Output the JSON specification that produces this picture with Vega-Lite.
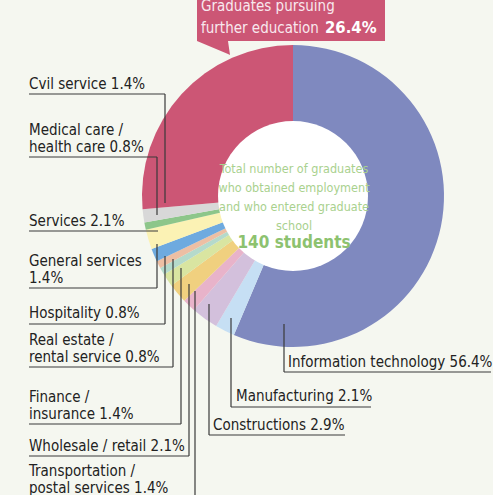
{
  "$schema": "https://vega.github.io/schema/vega-lite/v6.json",
  "width": 493,
  "height": 495,
  "autosize": {"type": "none"},
  "padding": 0,
  "background": "#f5f7f0",
  "config": {"view": {"stroke": null}},
  "datasets": {
    "slices": [
      {"cat": "Information technology", "pct": 56.4, "ord": 1},
      {"cat": "Manufacturing", "pct": 2.1, "ord": 2},
      {"cat": "Constructions", "pct": 2.9, "ord": 3},
      {"cat": "Transportation / postal services", "pct": 1.4, "ord": 4},
      {"cat": "Wholesale / retail", "pct": 2.1, "ord": 5},
      {"cat": "Finance / insurance", "pct": 1.4, "ord": 6},
      {"cat": "Real estate / rental service", "pct": 0.8, "ord": 7},
      {"cat": "Hospitality", "pct": 0.8, "ord": 8},
      {"cat": "General services", "pct": 1.4, "ord": 9},
      {"cat": "Services", "pct": 2.1, "ord": 10},
      {"cat": "Medical care / health care", "pct": 0.8, "ord": 11},
      {"cat": "Cvil service", "pct": 1.4, "ord": 12},
      {"cat": "Graduates pursuing further education", "pct": 26.4, "ord": 13}
    ],
    "leaders": [
      {"x": -264, "y": 102, "x2": -128, "y2": 102},
      {"x": -128, "y": 102, "x2": -128, "y2": -7},
      {"x": -264, "y": 39, "x2": -136, "y2": 39},
      {"x": -136, "y": 39, "x2": -136, "y2": -19},
      {"x": -264, "y": -35, "x2": -135, "y2": -35},
      {"x": -264, "y": -92, "x2": -136, "y2": -92},
      {"x": -136, "y": -92, "x2": -136, "y2": -48},
      {"x": -264, "y": -128, "x2": -128, "y2": -128},
      {"x": -128, "y": -128, "x2": -128, "y2": -60},
      {"x": -264, "y": -171, "x2": -120, "y2": -171},
      {"x": -120, "y": -171, "x2": -120, "y2": -63},
      {"x": -264, "y": -228, "x2": -112, "y2": -228},
      {"x": -112, "y": -228, "x2": -112, "y2": -72},
      {"x": -264, "y": -260, "x2": -104, "y2": -260},
      {"x": -104, "y": -260, "x2": -104, "y2": -88},
      {"x": -98, "y": -95, "x2": -98, "y2": -305},
      {"x": -84, "y": -239, "x2": 52, "y2": -239},
      {"x": -84, "y": -108, "x2": -84, "y2": -239},
      {"x": -62, "y": -211, "x2": 78, "y2": -211},
      {"x": -62, "y": -122, "x2": -62, "y2": -211},
      {"x": -9, "y": -176, "x2": 198, "y2": -176},
      {"x": -9, "y": -128, "x2": -9, "y2": -176}
    ],
    "labels": [
      {"label": "Cvil service 1.4%", "x": -264, "y": 107},
      {"label": "Medical care /\nhealth care 0.8%", "x": -264, "y": 61},
      {"label": "Services 2.1%", "x": -264, "y": -30},
      {"label": "General services\n1.4%", "x": -264, "y": -70},
      {"label": "Hospitality 0.8%", "x": -264, "y": -122},
      {"label": "Real estate /\nrental service 0.8%", "x": -264, "y": -149},
      {"label": "Finance /\ninsurance 1.4%", "x": -264, "y": -206},
      {"label": "Wholesale / retail 2.1%", "x": -264, "y": -255},
      {"label": "Transportation /\npostal services 1.4%", "x": -264, "y": -280},
      {"label": "Constructions 2.9%", "x": -80, "y": -234},
      {"label": "Manufacturing 2.1%", "x": -57, "y": -205},
      {"label": "Information technology 56.4%", "x": -5, "y": -171}
    ],
    "box": [{"x": -96, "x2": 92, "y": 200, "y2": 155}],
    "pointer": [
      {"x": -96, "y": 155, "y2": 155},
      {"x": -65, "y": 142, "y2": 155},
      {"x": -63, "y": 141, "y2": 141}
    ],
    "center": [{"x": 0, "y": 0}]
  },
  "encoding": {
    "x": {"type": "quantitative", "scale": {"domain": [-293, 200], "nice": false, "zero": false}, "axis": null},
    "y": {"type": "quantitative", "scale": {"domain": [-299, 196], "nice": false, "zero": false}, "axis": null}
  },
  "layer": [
    {
      "data": {"name": "slices"},
      "mark": {"type": "arc", "outerRadius": 151, "innerRadius": 0},
      "encoding": {
        "x": {"datum": 0, "type": "quantitative"},
        "y": {"datum": 0, "type": "quantitative"},
        "theta": {"field": "pct", "type": "quantitative", "stack": true},
        "order": {"field": "ord", "type": "quantitative"},
        "color": {
          "field": "cat",
          "type": "nominal",
          "legend": null,
          "scale": {
            "domain": ["Information technology", "Manufacturing", "Constructions", "Transportation / postal services", "Wholesale / retail", "Finance / insurance", "Real estate / rental service", "Hospitality", "General services", "Services", "Medical care / health care", "Cvil service", "Graduates pursuing further education"],
            "range": ["#7f89bf", "#c6dff4", "#d3c0dc", "#e8b3ca", "#f0d07f", "#d9e5a1", "#b5dacb", "#edbfa4", "#6eaadf", "#fbf2b4", "#8dc68a", "#d8d8d8", "#cc5675"]
          }
        }
      }
    },
    {
      "data": {"name": "center"},
      "mark": {"type": "point", "filled": true, "shape": "circle", "size": 22500, "color": "#ffffff", "opacity": 1},
      "encoding": {
        "x": {"field": "x", "type": "quantitative"},
        "y": {"field": "y", "type": "quantitative"}
      }
    },
    {
      "data": {"name": "leaders"},
      "mark": {"type": "rule", "color": "#3a3a3a", "strokeWidth": 1.2},
      "encoding": {
        "x": {"field": "x", "type": "quantitative"},
        "y": {"field": "y", "type": "quantitative"},
        "x2": {"field": "x2"},
        "y2": {"field": "y2"}
      }
    },
    {
      "data": {"name": "labels"},
      "mark": {"type": "text", "align": "left", "baseline": "alphabetic", "font": "DejaVu Sans Condensed, sans-serif", "fontSize": 15, "lineHeight": 16.5, "lineBreak": "\n", "color": "#222222"},
      "encoding": {
        "x": {"field": "x", "type": "quantitative"},
        "y": {"field": "y", "type": "quantitative"},
        "text": {"field": "label"}
      }
    },
    {
      "data": {"name": "box"},
      "mark": {"type": "rect", "color": "#cc5675"},
      "encoding": {
        "x": {"field": "x", "type": "quantitative"},
        "x2": {"field": "x2"},
        "y": {"field": "y", "type": "quantitative"},
        "y2": {"field": "y2"}
      }
    },
    {
      "data": {"name": "pointer"},
      "mark": {"type": "area", "color": "#cc5675", "orient": "vertical"},
      "encoding": {
        "x": {"field": "x", "type": "quantitative"},
        "y": {"field": "y", "type": "quantitative", "stack": null},
        "y2": {"field": "y2"}
      }
    },
    {
      "data": {"values": [{"t": "Graduates pursuing\nfurther education", "x": -92, "y": 185}]},
      "mark": {"type": "text", "align": "left", "baseline": "alphabetic", "font": "DejaVu Sans Condensed, sans-serif", "fontSize": 15, "lineHeight": 22, "lineBreak": "\n", "color": "#f8e8ee"},
      "encoding": {
        "x": {"field": "x", "type": "quantitative"},
        "y": {"field": "y", "type": "quantitative"},
        "text": {"field": "t"}
      }
    },
    {
      "data": {"values": [{"t": "26.4%", "x": 32, "y": 163}]},
      "mark": {"type": "text", "align": "left", "baseline": "alphabetic", "font": "DejaVu Sans Condensed, sans-serif", "fontSize": 16.5, "fontWeight": "bold", "color": "#ffffff"},
      "encoding": {
        "x": {"field": "x", "type": "quantitative"},
        "y": {"field": "y", "type": "quantitative"},
        "text": {"field": "t"}
      }
    },
    {
      "data": {"values": [{"t": "Total number of graduates\nwho obtained employment\nand who entered graduate\nschool", "x": 1, "y": 23}]},
      "mark": {"type": "text", "align": "center", "baseline": "alphabetic", "font": "DejaVu Sans Condensed, sans-serif", "fontSize": 12.5, "lineHeight": 19, "lineBreak": "\n", "color": "#a9d18e"},
      "encoding": {
        "x": {"field": "x", "type": "quantitative"},
        "y": {"field": "y", "type": "quantitative"},
        "text": {"field": "t"}
      }
    },
    {
      "data": {"values": [{"t": "140 students", "x": 1, "y": -52}]},
      "mark": {"type": "text", "align": "center", "baseline": "alphabetic", "font": "DejaVu Sans Condensed, sans-serif", "fontSize": 17, "fontWeight": "bold", "color": "#8dc26f"},
      "encoding": {
        "x": {"field": "x", "type": "quantitative"},
        "y": {"field": "y", "type": "quantitative"},
        "text": {"field": "t"}
      }
    }
  ]
}
